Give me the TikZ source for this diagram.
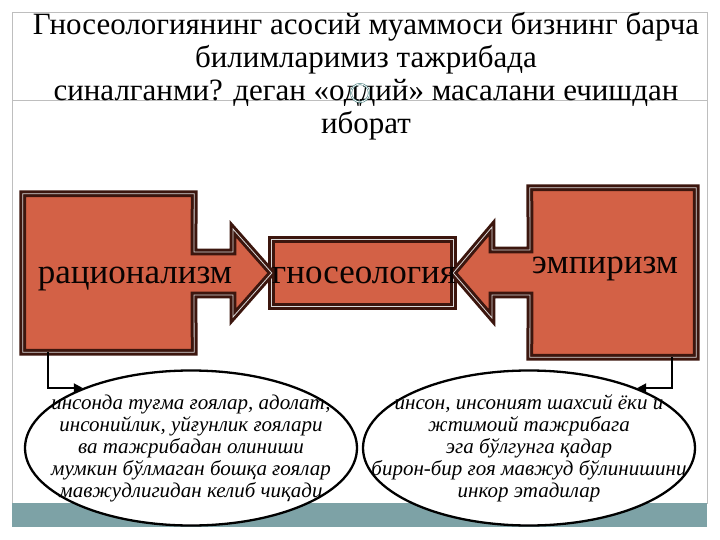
\documentclass[tikz,border=0pt]{standalone}
\usepackage{fontspec}
\setmainfont{Liberation Serif}
\usetikzlibrary{shapes.geometric,arrows.meta,positioning}
\definecolor{boxfill}{RGB}{211,97,70}
\definecolor{boxline}{RGB}{60,22,14}
\definecolor{bandcol}{RGB}{125,162,166}
\definecolor{framecol}{RGB}{190,190,190}
\begin{document}
\begin{tikzpicture}[
		x=1pt, y=-1pt,
		box/.style={draw=boxline, fill=boxfill, line width=3pt, double=white!70!gray, double distance=0.8pt, line join=miter},
		body/.style={rectangle, inner sep=0pt},
		boxtext/.style={anchor=base, inner sep=0pt, text=black!85!boxline, font=\fontsize{35}{35}\selectfont},
		idea/.style={ellipse, draw, fill=white, line width=2.3pt, minimum width=332pt, minimum height=155pt, inner sep=0pt},
		ideatext/.style={inner sep=0pt, align=center, font=\fontsize{21}{22}\selectfont\itshape},
		link/.style={line width=2pt, -{Triangle[length=9pt,width=9pt]}}
	]
	\useasboundingbox (0,0) rectangle (720,540);
	% slide frame and band
	\draw[framecol, line width=0.8pt] (12,12) rectangle (707,503);
	\draw[framecol, line width=0.8pt] (12,100) -- (707,100);
	\fill[bandcol] (12,503) rectangle (707,527);

	\node[align=center, inner sep=0pt, anchor=north, font=\fontsize{31}{33}\selectfont] (head) at (366,12)
	{Гносеологиянинг асосий муаммоси бизнинг барча\\ билимларимиз тажрибада\\ синалганми? деган «оддий» масалани ечишдан\\ иборат};
	\draw[gray!60!teal, line width=0.6pt, double=white, double distance=0.7pt] (360,93) circle[radius=9];

	% the three boxes
	\node[body, minimum width=171pt, minimum height=158pt] (rat) at (108.5,273) {};
	\node[body, minimum width=181pt, minimum height=66pt] (gno) at (362.5,273) {};
	\node[body, minimum width=166pt, minimum height=169pt] (emp) at (613,272.5) {};

	\draw[box] (gno.north west) rectangle (gno.south east);
	\draw[box] (rat.north west) -- (rat.north east) -- (194,252) -- (233,252) -- (233,229)
		-- (gno.west) -- (233,317) -- (233,295) -- (194,295) -- (rat.south east) -- (rat.south west) -- cycle;
	\draw[box] (emp.north east) -- (emp.north west) -- (530,250) -- (492,250) -- (492,227)
		-- (gno.east) -- (492,318) -- (492,295) -- (530,295) -- (emp.south west) -- (emp.south east) -- cycle;

	\node[boxtext] (ratlbl) at (135,283) {рационализм};
	\node[boxtext] (gnolbl) at (364,283) {гносеология};
	\node[boxtext] (emplbl) at (605,273) {эмпиризм};

	% the two ideas
	\node[idea] (lidea) at (191,448) {};
	\node[idea] (ridea) at (529,448) {};
	\node[ideatext] (ltext) at (lidea.center) {инсонда туғма ғоялар, адолат,\\ инсонийлик, уйғунлик ғоялари\\ ва тажрибадан олиниши\\ мумкин бўлмаган бошқа ғоялар\\ мавжудлигидан келиб чиқади};
	\node[ideatext] (rtext) at (ridea.center) {инсон, инсоният шахсий ёки и\\ жтимоий тажрибага\\ эга бўлгунга қадар\\ бирон-бир ғоя мавжуд бўлинишини\\ инкор этадилар};

	\draw[link] ([xshift=25pt]rat.south west) |- (lidea.151);
	\draw[link] ([xshift=-24pt]emp.south east) |- (ridea.29);
\end{tikzpicture}
\end{document}
